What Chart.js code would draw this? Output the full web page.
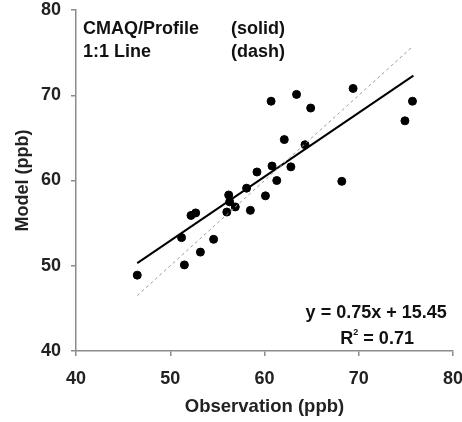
<!DOCTYPE html>
<html>
<head>
<meta charset="utf-8">
<script src="https://cdn.jsdelivr.net/npm/chart.js@4/dist/chart.umd.min.js"></script>
<style>
  html, body { margin: 0; padding: 0; background: #fff; }
  canvas { display: block; }
</style>
</head>
<body>
<canvas id="chart" width="462" height="422"></canvas>
<script>
// Observation vs model ozone (ppb)
const obsValues = [46.5, 51.2, 51.5, 52.2, 52.7, 53.2, 54.6, 56.0, 56.2, 56.3, 56.9, 58.1, 58.5, 59.2,
  60.1, 60.7, 60.8, 61.3, 62.1, 62.8, 63.4, 64.3, 64.9, 68.2, 69.4, 74.9, 75.7];
const modelValues = [48.9, 53.3, 50.1, 55.9, 56.2, 51.6, 53.1, 56.3, 58.3, 57.5, 56.9, 59.1, 56.5, 61.0,
  58.2, 69.3, 61.7, 60.0, 64.8, 61.6, 70.1, 64.2, 68.5, 59.9, 70.8, 67.0, 69.3];

// fitted line y = 0.75x + 15.45 (end points)
const fitX = [46.5, 75.8];
const fitY = [50.3, 72.3];

// 1:1 line
const oneX = [46.5, 75.6];
const oneY = [46.5, 75.6];

const xTicks = [40, 50, 60, 70, 80];
const yTicks = [40, 50, 60, 70, 80];

const toPoints = (xs, ys) => xs.map((x, i) => ({ x, y: ys[i] }));

const FONT = '"Liberation Sans", Arial, sans-serif';

// text drawn inside the plot area, placed in data units
const notes = [
  { text: 'CMAQ/Profile', x: 40.75, y: 77.8, align: 'left' },
  { text: '(solid)', x: 56.45, y: 77.8, align: 'left' },
  { text: '1:1 Line', x: 40.75, y: 75.1, align: 'left' },
  { text: '(dash)', x: 56.45, y: 75.1, align: 'left' },
  { text: 'y = 0.75x + 15.45', x: 71.85, y: 44.5, align: 'center' },
];

const notesPlugin = {
  id: 'notes',
  afterDatasetsDraw(chart) {
    const { ctx, scales } = chart;
    ctx.save();
    ctx.fillStyle = '#111';
    ctx.font = 'bold 18px ' + FONT;
    ctx.textBaseline = 'middle';
    notes.forEach(n => {
      ctx.textAlign = n.align;
      ctx.fillText(n.text, scales.x.getPixelForValue(n.x), scales.y.getPixelForValue(n.y));
    });
    // R² line, with a raised 2
    const cx = scales.x.getPixelForValue(71.95);
    const cy = scales.y.getPixelForValue(41.4);
    const a = 'R', b = '2', c = ' = 0.71';
    ctx.font = 'bold 18px ' + FONT;
    const wa = ctx.measureText(a).width;
    const wc = ctx.measureText(c).width;
    ctx.font = 'bold 9px ' + FONT;
    const wb = ctx.measureText(b).width;
    let x0 = cx - (wa + wb + wc) / 2;
    ctx.textAlign = 'left';
    ctx.font = 'bold 18px ' + FONT;
    ctx.fillText(a, x0, cy);
    ctx.font = 'bold 9px ' + FONT;
    ctx.fillText(b, x0 + wa, cy - 7);
    ctx.font = 'bold 18px ' + FONT;
    ctx.fillText(c, x0 + wa + wb, cy);
    ctx.restore();
  }
};

new Chart(document.getElementById('chart'), {
  type: 'scatter',
  data: {
    datasets: [
      {
        label: '1:1 Line',
        type: 'line',
        data: toPoints(oneX, oneY),
        borderColor: '#9a9a9a',
        borderWidth: 1,
        borderDash: [3, 3],
        pointRadius: 0,
        fill: false,
      },
      {
        label: 'CMAQ/Profile fit',
        type: 'line',
        data: toPoints(fitX, fitY),
        borderColor: '#000',
        borderWidth: 2,
        pointRadius: 0,
        fill: false,
      },
      {
        label: 'CMAQ/Profile',
        data: toPoints(obsValues, modelValues),
        backgroundColor: '#000',
        borderColor: '#000',
        pointRadius: 4,
      },
    ]
  },
  options: {
    responsive: false,
    animation: false,
    layout: { padding: 0 },
    plugins: {
      legend: { display: false },
      tooltip: { enabled: false },
    },
    scales: {
      x: {
        type: 'linear',
        min: 40,
        max: 80,
        afterBuildTicks: (axis) => { axis.ticks = xTicks.map(v => ({ value: v })); },
        afterFit: (axis) => { axis.height = 71; axis.paddingRight = 9; },
        grid: { drawOnChartArea: false, drawTicks: true, tickLength: 5, color: '#8c8c8c', lineWidth: 1.5 },
        border: { color: '#8c8c8c', width: 1.5 },
        ticks: { color: '#222', padding: 12, font: { family: FONT, size: 18, weight: 'bold' } },
        title: {
          display: true,
          text: 'Observation (ppb)',
          color: '#222',
          padding: { top: 2 },
          font: { family: FONT, size: 18.5, weight: 'bold' },
        },
      },
      y: {
        type: 'linear',
        min: 40,
        max: 80,
        afterBuildTicks: (axis) => { axis.ticks = yTicks.map(v => ({ value: v })); },
        afterFit: (axis) => { axis.width = 76; axis.paddingTop = 10; },
        grid: { drawOnChartArea: false, drawTicks: true, tickLength: 5, color: '#8c8c8c', lineWidth: 1.5 },
        border: { color: '#8c8c8c', width: 1.5 },
        ticks: { color: '#222', padding: 10, font: { family: FONT, size: 18, weight: 'bold' } },
        title: {
          display: true,
          text: 'Model (ppb)',
          color: '#222',
          padding: { top: 12, bottom: 0 },
          font: { family: FONT, size: 18, weight: 'bold' },
        },
      },
    },
  },
  plugins: [notesPlugin],
});
</script>
</body>
</html>
